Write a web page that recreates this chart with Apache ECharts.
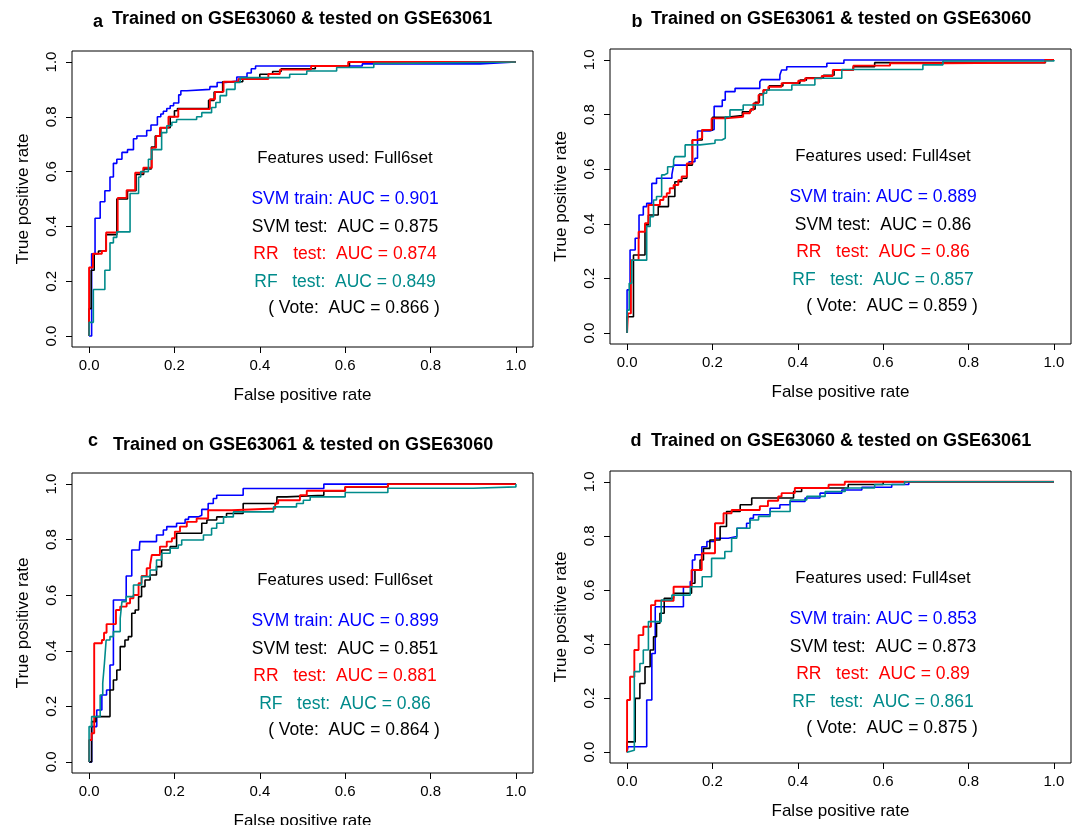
<!DOCTYPE html>
<html>
<head>
<meta charset="utf-8">
<title>ROC curves</title>
<script src="https://cdn.jsdelivr.net/npm/echarts@6/dist/echarts.min.js"></script>
<style>
	html, body { margin: 0; padding: 0; background: #fff; }
	#main { width: 1075px; height: 825px; }
</style>
</head>
<body>
<div id="main"></div>
<script>
// tick labels on both axes
var tickValues = [0, 0.2, 0.4, 0.6, 0.8, 1.0];

var panelLetters = ['a', 'b', 'c', 'd'];
var panelTitles = [
	'Trained on GSE63060 & tested on GSE63061',
	'Trained on GSE63061 & tested on GSE63060',
	'Trained on GSE63061 & tested on GSE63060',
	'Trained on GSE63060 & tested on GSE63061'
];
var featureSets = ['Full6set', 'Full4set', 'Full6set', 'Full4set'];
var aucSvmTrain = ['0.901', '0.889', '0.899', '0.853'];
var aucSvmTest = ['0.875', '0.86', '0.851', '0.873'];
var aucRR = ['0.874', '0.86', '0.881', '0.89'];
var aucRF = ['0.849', '0.857', '0.86', '0.861'];
var aucVote = ['0.866', '0.859', '0.864', '0.875'];

// ROC steps: [false positive rate, true positive rate after the jump]
var aSvmTrain = [[0,0],[0.006,0.30],[0.014,0.43],[0.026,0.49],[0.037,0.53],[0.049,0.58],[0.057,0.63],[0.065,0.645],[0.077,0.67],[0.09,0.68],[0.104,0.72],[0.112,0.73],[0.135,0.75],[0.145,0.77],[0.16,0.80],[0.168,0.81],[0.174,0.82],[0.182,0.83],[0.19,0.84],[0.198,0.85],[0.21,0.88],[0.215,0.895],[0.229,0.90],[0.283,0.91],[0.3,0.925],[0.32,0.93],[0.346,0.945],[0.37,0.96],[0.38,0.975],[0.39,0.985],[0.64,0.993],[0.916,1.0],[1,1]];
var aSvmTest = [[0,0],[0,0.10],[0.005,0.24],[0.012,0.30],[0.022,0.31],[0.04,0.37],[0.065,0.50],[0.09,0.53],[0.11,0.59],[0.128,0.61],[0.146,0.69],[0.155,0.73],[0.168,0.76],[0.19,0.80],[0.2,0.822],[0.207,0.83],[0.28,0.86],[0.293,0.89],[0.313,0.928],[0.36,0.94],[0.40,0.955],[0.43,0.965],[0.45,0.975],[0.53,0.985],[0.61,1.0],[1,1]];
var aRR = [[0,0],[0,0.25],[0.009,0.30],[0.03,0.31],[0.04,0.378],[0.067,0.504],[0.088,0.532],[0.108,0.596],[0.127,0.614],[0.147,0.687],[0.157,0.73],[0.166,0.76],[0.186,0.80],[0.209,0.828],[0.283,0.864],[0.295,0.891],[0.315,0.928],[0.35,0.938],[0.42,0.956],[0.447,0.972],[0.52,0.985],[0.607,1.0],[1,1]];
var aRF = [[0,0],[0,0.05],[0.01,0.17],[0.037,0.24],[0.049,0.34],[0.057,0.36],[0.065,0.38],[0.096,0.52],[0.116,0.58],[0.121,0.60],[0.139,0.645],[0.147,0.68],[0.17,0.742],[0.182,0.767],[0.194,0.78],[0.205,0.79],[0.252,0.80],[0.264,0.815],[0.287,0.834],[0.297,0.852],[0.307,0.877],[0.322,0.90],[0.342,0.925],[0.354,0.943],[0.47,0.955],[0.51,0.967],[0.58,0.98],[0.667,0.995],[0.705,1.0],[1,1]];

var bSvmTrain = [[0,0],[0,0.158],[0.007,0.304],[0.019,0.347],[0.028,0.432],[0.038,0.463],[0.046,0.475],[0.058,0.548],[0.069,0.567],[0.105,0.58],[0.109,0.615],[0.145,0.627],[0.159,0.64],[0.165,0.74],[0.194,0.745],[0.204,0.83],[0.223,0.853],[0.23,0.884],[0.253,0.896],[0.311,0.92],[0.315,0.928],[0.358,0.945],[0.362,0.963],[0.374,0.975],[0.468,0.988],[0.508,1.0],[1,1]];
var bSvmTest = [[0,0],[0,0.06],[0.015,0.286],[0.042,0.396],[0.05,0.432],[0.073,0.463],[0.097,0.50],[0.112,0.554],[0.128,0.567],[0.14,0.615],[0.153,0.707],[0.176,0.744],[0.2,0.79],[0.232,0.796],[0.27,0.81],[0.29,0.82],[0.3,0.845],[0.31,0.875],[0.32,0.89],[0.333,0.905],[0.365,0.915],[0.405,0.926],[0.42,0.935],[0.46,0.944],[0.485,0.963],[0.53,0.975],[0.58,0.99],[0.98,1.0],[1,1]];
var bRR = [[0,0],[0.002,0.072],[0.009,0.267],[0.027,0.371],[0.042,0.402],[0.05,0.469],[0.077,0.487],[0.085,0.499],[0.093,0.512],[0.1,0.53],[0.109,0.542],[0.12,0.56],[0.128,0.573],[0.14,0.621],[0.153,0.707],[0.163,0.713],[0.176,0.744],[0.198,0.786],[0.23,0.792],[0.272,0.805],[0.288,0.817],[0.296,0.841],[0.308,0.872],[0.319,0.89],[0.331,0.902],[0.362,0.915],[0.401,0.924],[0.417,0.933],[0.456,0.941],[0.482,0.963],[0.53,0.979],[0.616,0.988],[0.74,0.99],[0.979,1.0],[1,1]];
var bRF = [[0,0],[0,0.084],[0.005,0.182],[0.011,0.267],[0.046,0.39],[0.054,0.426],[0.062,0.487],[0.069,0.5],[0.081,0.579],[0.087,0.585],[0.095,0.609],[0.109,0.634],[0.112,0.646],[0.136,0.689],[0.171,0.695],[0.206,0.707],[0.222,0.713],[0.23,0.792],[0.241,0.817],[0.272,0.835],[0.319,0.878],[0.327,0.89],[0.386,0.908],[0.44,0.933],[0.503,0.965],[0.693,0.982],[0.74,0.996],[1,1]];

var cSvmTrain = [[0,0],[0.006,0.127],[0.018,0.187],[0.03,0.241],[0.041,0.259],[0.049,0.349],[0.057,0.583],[0.087,0.669],[0.1,0.763],[0.118,0.772],[0.119,0.793],[0.158,0.817],[0.174,0.835],[0.182,0.847],[0.205,0.859],[0.225,0.873],[0.233,0.882],[0.256,0.888],[0.264,0.909],[0.279,0.93],[0.291,0.948],[0.299,0.96],[0.361,0.984],[0.55,1.0],[1,1]];
var cSvmTest = [[0,0],[0.006,0.145],[0.016,0.163],[0.049,0.259],[0.057,0.295],[0.065,0.331],[0.073,0.415],[0.084,0.439],[0.092,0.451],[0.1,0.535],[0.108,0.547],[0.116,0.595],[0.123,0.631],[0.131,0.655],[0.143,0.673],[0.158,0.703],[0.17,0.763],[0.19,0.775],[0.205,0.823],[0.264,0.859],[0.276,0.871],[0.299,0.882],[0.322,0.894],[0.361,0.93],[0.44,0.954],[0.463,0.96],[0.55,0.975],[0.6,0.99],[0.7,1.0],[1,1]];
var cRR = [[0,0],[0,0.079],[0.006,0.103],[0.012,0.427],[0.03,0.439],[0.035,0.465],[0.041,0.496],[0.063,0.547],[0.073,0.559],[0.088,0.571],[0.096,0.589],[0.104,0.601],[0.116,0.643],[0.123,0.669],[0.135,0.697],[0.143,0.709],[0.147,0.745],[0.166,0.775],[0.182,0.793],[0.194,0.805],[0.201,0.829],[0.213,0.847],[0.229,0.864],[0.252,0.876],[0.279,0.906],[0.334,0.912],[0.436,0.93],[0.443,0.942],[0.494,0.96],[0.51,0.976],[0.6,0.99],[0.7,1.0],[1,1]];
var cRF = [[0,0],[0,0.127],[0.006,0.163],[0.026,0.241],[0.032,0.283],[0.036,0.355],[0.04,0.439],[0.049,0.451],[0.057,0.469],[0.073,0.517],[0.077,0.577],[0.087,0.595],[0.104,0.637],[0.123,0.667],[0.143,0.691],[0.158,0.727],[0.17,0.751],[0.19,0.769],[0.209,0.781],[0.217,0.799],[0.268,0.817],[0.287,0.841],[0.299,0.859],[0.315,0.882],[0.338,0.9],[0.432,0.918],[0.486,0.93],[0.502,0.942],[0.518,0.954],[0.6,0.97],[0.7,0.985],[0.9,0.99],[1,1]];

var dSvmTrain = [[0,0],[0.002,0.02],[0.046,0.193],[0.058,0.365],[0.066,0.538],[0.132,0.612],[0.148,0.631],[0.153,0.711],[0.159,0.73],[0.175,0.76],[0.187,0.779],[0.206,0.791],[0.237,0.798],[0.257,0.828],[0.28,0.847],[0.288,0.865],[0.296,0.878],[0.335,0.902],[0.358,0.915],[0.382,0.927],[0.417,0.94],[0.452,0.958],[0.503,0.97],[0.55,0.98],[0.62,0.99],[0.66,1.0],[1,1]];
var dSvmTest = [[0,0],[0,0.038],[0.019,0.199],[0.03,0.254],[0.042,0.316],[0.054,0.378],[0.062,0.427],[0.069,0.477],[0.077,0.514],[0.087,0.569],[0.109,0.588],[0.151,0.625],[0.159,0.674],[0.171,0.711],[0.179,0.754],[0.194,0.785],[0.218,0.835],[0.233,0.89],[0.265,0.915],[0.292,0.94],[0.39,0.964],[0.409,0.977],[0.518,0.99],[0.6,1.0],[1,1]];
var dRR = [[0,0],[0,0.193],[0.007,0.279],[0.017,0.378],[0.027,0.433],[0.038,0.464],[0.056,0.544],[0.066,0.56],[0.109,0.612],[0.151,0.674],[0.175,0.736],[0.206,0.847],[0.226,0.884],[0.245,0.896],[0.311,0.91],[0.33,0.93],[0.354,0.946],[0.362,0.958],[0.393,0.977],[0.472,0.989],[0.51,1.0],[1,1]];
var dRF = [[0,0],[0.002,0.007],[0.017,0.298],[0.03,0.328],[0.038,0.378],[0.05,0.483],[0.08,0.563],[0.105,0.581],[0.148,0.612],[0.176,0.649],[0.198,0.717],[0.229,0.742],[0.245,0.791],[0.257,0.828],[0.288,0.859],[0.308,0.872],[0.335,0.89],[0.382,0.933],[0.421,0.946],[0.464,0.964],[0.511,0.977],[0.58,0.99],[0.65,1.0],[1,1]];

init();

function init() {
	var myChart = echarts.init(document.getElementById('main'), null, {renderer: 'canvas'});
	myChart.setOption(buildOption());
}

function buildOption() {
	var BLUE = '#0000FF', BLACK = '#000000', RED = '#FF0000', TEAL = '#008B8B';
	var FONT = '"Liberation Sans", Arial, sans-serif';
	// plot boxes of the four panels
	var boxes = [
		{left: 72, top: 51, width: 461, height: 296},
		{left: 610, top: 49, width: 461, height: 295},
		{left: 72, top: 473, width: 461, height: 300},
		{left: 610, top: 471, width: 461, height: 292}
	];
	var curves = [
		[aSvmTrain, aSvmTest, aRR, aRF],
		[bSvmTrain, bSvmTest, bRR, bRF],
		[cSvmTrain, cSvmTest, cRR, cRF],
		[dSvmTrain, dSvmTest, dRR, dRF]
	];
	var colors = [BLUE, BLACK, RED, TEAL];
	var widths = [1.6, 1.6, 1.9, 1.6];
	var titleY = [[22, 19], [22, 19], [441, 445], [441, 441]];
	var letterX = [98, 637, 93, 636];
	var titleX = [112, 651, 113, 651];

	var grid = [], xAxis = [], yAxis = [], series = [], graphic = [];
	var fmt = function (v) { return v.toFixed(1); };

	for (var i = 0; i < 4; i++) {
		var b = boxes[i];
		grid.push({
			left: b.left, top: b.top, width: b.width, height: b.height,
			show: true, borderColor: '#000', borderWidth: 1,
			backgroundColor: 'transparent', containLabel: false, outerBoundsMode: 'none'
		});
		xAxis.push({
			type: 'value', gridIndex: i, min: -0.04, max: 1.04,
			name: 'False positive rate', nameLocation: 'middle', nameGap: 40,
			nameTextStyle: {fontFamily: FONT, fontSize: 17, color: '#000'},
			axisLine: {show: false, onZero: false},
			axisTick: {show: true, inside: false, length: 6, customValues: tickValues, lineStyle: {color: '#000'}},
			axisLabel: {customValues: tickValues, formatter: fmt, margin: 11, fontFamily: FONT, fontSize: 15, color: '#000'},
			splitLine: {show: false}
		});
		yAxis.push({
			type: 'value', gridIndex: i, min: -0.04, max: 1.04,
			name: 'True positive rate', nameLocation: 'middle', nameGap: 40,
			nameTextStyle: {fontFamily: FONT, fontSize: 17, color: '#000'},
			axisLine: {show: false, onZero: false},
			axisTick: {show: true, inside: false, length: 6, customValues: tickValues, lineStyle: {color: '#000'}},
			axisLabel: {customValues: tickValues, formatter: fmt, rotate: 90, margin: 13, fontFamily: FONT, fontSize: 15, color: '#000'},
			splitLine: {show: false}
		});
		for (var k = 0; k < 4; k++) {
			series.push({
				type: 'line', xAxisIndex: i, yAxisIndex: i,
				data: curves[i][k], step: 'end',
				showSymbol: false, symbol: 'none', silent: true,
				lineStyle: {color: colors[k], width: widths[k]},
				itemStyle: {color: colors[k]},
				z: 2 + k
			});
		}

		// panel letter and title
		graphic.push(textEl(panelLetters[i], letterX[i], titleY[i][0], 'center', 'bold 18px ' + FONT, BLACK));
		graphic.push(textEl(panelTitles[i], titleX[i], titleY[i][1], 'left', 'bold 18px ' + FONT, BLACK));

		// annotation block inside the plot
		var cx = b.left + 273, ty = b.top;
		var f = '17.5px ' + FONT;
		graphic.push(textEl('Features used: ' + featureSets[i], cx, ty + 107, 'center', '16.8px ' + FONT, BLACK));
		graphic.push(textEl('SVM train: AUC = ' + aucSvmTrain[i], cx, ty + 148.5, 'center', f, BLUE));
		graphic.push(textEl('SVM test:  AUC = ' + aucSvmTest[i], cx, ty + 176, 'center', f, BLACK));
		graphic.push(textEl('RR   test:  AUC = ' + aucRR[i], cx, ty + 203, 'center', f, RED));
		graphic.push(textEl('RF   test:  AUC = ' + aucRF[i], cx, ty + 231, 'center', f, TEAL));
		graphic.push(textEl('( Vote:  AUC = ' + aucVote[i] + ' )', cx + 9, ty + 257, 'center', f, BLACK));
	}

	return {
		backgroundColor: '#fff',
		animation: false,
		grid: grid,
		xAxis: xAxis,
		yAxis: yAxis,
		series: series,
		graphic: {elements: graphic}
	};
}

function textEl(text, x, y, align, font, color) {
	return {
		type: 'text', x: x, y: y, silent: true, z: 100,
		style: {
			text: text, font: font, fill: color,
			align: align, verticalAlign: 'middle',
			textAlign: align, textVerticalAlign: 'middle'
		}
	};
}
</script>
</body>
</html>
